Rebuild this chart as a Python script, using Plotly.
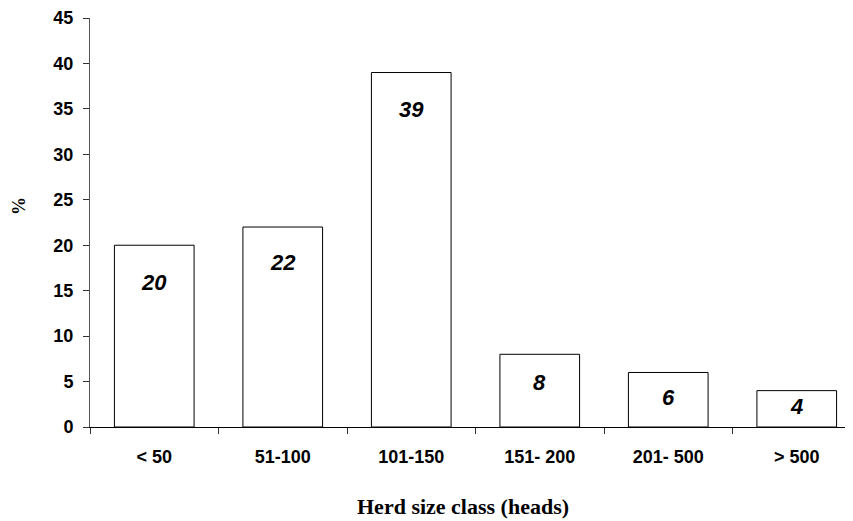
import plotly.graph_objects as go

categories = ["< 50", "51-100", "101-150", "151- 200", "201- 500", "> 500"]
values = [20, 22, 39, 8, 6, 4]
label_offsets_px = [37, 35, 37, 28, 25, 16]
y_ticks = [0, 5, 10, 15, 20, 25, 30, 35, 40, 45]

# page body has an 8px margin; plot area spans window x 90..862, y 18..427
L, T, B_LINE = 82, 10, 419
PW, PH = 853 - L, B_LINE - T


def px(xw):
    return (xw - 8 - L) / PW


def py(yw):
    return (B_LINE - (yw - 8)) / PH


fig = go.Figure()
fig.add_trace(go.Bar(
    x=categories, y=values, width=0.62,
    marker=dict(color="white", line=dict(color="black", width=1)),
    showlegend=False, hoverinfo="skip",
))

for c, v, off in zip(categories, values, label_offsets_px):
    fig.add_annotation(
        x=c, y=v, xref="x", yref="y", text=f"<b><i>{v}</i></b>",
        showarrow=False, yanchor="middle", yshift=-off,
        font=dict(family="Liberation Sans", size=22, color="black"),
    )

fig.add_annotation(
    x=px(463), xref="paper", y=py(506), yref="paper",
    xanchor="center", yanchor="middle",
    text="<b>Herd size class (heads)</b>", showarrow=False,
    font=dict(family="Liberation Serif", size=22, color="black"),
)
fig.add_annotation(
    x=px(19), xref="paper", y=py(206), yref="paper",
    xanchor="center", yanchor="middle",
    text="<b>%</b>", showarrow=False, textangle=-90,
    font=dict(family="Liberation Serif", size=18, color="black"),
)

fig.update_layout(
    width=853, height=521,
    margin=dict(l=L, r=0, t=T, b=521 - B_LINE),
    plot_bgcolor="white", paper_bgcolor="white",
    xaxis=dict(
        type="category", range=[-0.5, 5.5],
        showline=True, linecolor="black", linewidth=1,
        ticks="outside", tickson="boundaries", ticklen=6, tickcolor="#333",
        showgrid=False, zeroline=False, ticklabelstandoff=13,
        tickfont=dict(family="Liberation Sans", size=18, color="black", weight="bold"),
    ),
    yaxis=dict(
        range=[0, 45], tickvals=y_ticks,
        showline=True, linecolor="#555", linewidth=1,
        ticks="outside", ticklen=6, tickcolor="#333",
        showgrid=False, zeroline=False, ticklabelstandoff=6,
        tickfont=dict(family="Liberation Sans", size=18, color="black", weight="bold"),
    ),
)

fig.write_html("out.html")
